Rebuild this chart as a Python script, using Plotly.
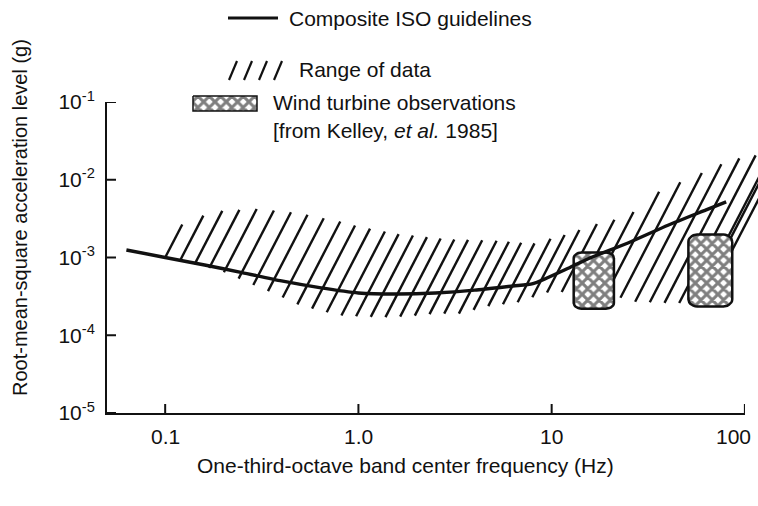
import numpy as np
import plotly.graph_objects as go

# Composite ISO guideline curve (one-third-octave band centres, Hz -> rms g)
iso_freq = [0.063, 0.1, 0.16, 0.25, 0.4, 0.63, 1.0, 1.6, 2.5, 4.0, 6.3, 8.0,
            12.5, 16.0, 25.0, 40.0, 63.0, 80.0]
iso_level = [1.25e-3, 1.0e-3, 8.0e-4, 6.4e-4, 5.0e-4, 4.1e-4, 3.5e-4, 3.4e-4,
             3.5e-4, 3.8e-4, 4.3e-4, 4.6e-4, 7.5e-4, 1.0e-3, 1.55e-3, 2.6e-3,
             4.1e-3, 5.2e-3]

# Range of data: upper and lower envelopes of the hatched band
range_up_freq = [0.1, 0.12, 0.16, 0.2, 0.3, 0.5, 0.8, 1.0, 1.6, 3.0, 5.0, 8.0,
                 10.0, 13.0, 16.0, 20.0, 26.0, 37.0, 50.0, 85.0, 120.0]
range_up_level = [2.0e-3, 2.6e-3, 3.5e-3, 4.0e-3, 4.2e-3, 3.7e-3, 2.9e-3, 2.5e-3,
                  2.0e-3, 1.7e-3, 1.65e-3, 1.5e-3, 1.75e-3, 2.1e-3, 2.6e-3, 2.9e-3,
                  3.7e-3, 7.4e-3, 1.0e-2, 1.8e-2, 2.1e-2]
range_lo_freq = [0.1, 0.16, 0.2, 0.3, 0.37, 0.5, 0.8, 1.3, 1.8, 2.5, 3.5, 4.3,
                 7.0, 8.0, 10.0, 13.0, 20.0, 27.0, 40.0, 63.0, 80.0, 88.0]
range_lo_level = [1.0e-3, 7.6e-4, 6.5e-4, 4.2e-4, 3.4e-4, 2.4e-4, 1.8e-4, 1.7e-4,
                  1.75e-4, 1.9e-4, 1.9e-4, 2.3e-4, 2.7e-4, 3.1e-4, 3.7e-4, 3.5e-4,
                  3.3e-4, 2.7e-4, 2.6e-4, 2.6e-4, 1.5e-3, 2.6e-3]

# Wind turbine observations (Kelley et al. 1985): frequency and level extents
obs_freq_lo = [13.0, 51.0]
obs_freq_hi = [21.0, 86.0]
obs_level_lo = [2.2e-4, 2.35e-4]
obs_level_hi = [1.16e-3, 1.97e-3]

x_ticks = [0.1, 1.0, 10.0, 100.0]
x_tick_text = ["0.1", "1.0", "10", "100"]
y_ticks = [1e-5, 1e-4, 1e-3, 1e-2, 1e-1]
y_tick_text = ["10<sup>-5</sup>", "10<sup>-4</sup>", "10<sup>-3</sup>",
               "10<sup>-2</sup>", "10<sup>-1</sup>"]

W, H = 758, 506
FONT = "Liberation Sans, Arial, Helvetica, sans-serif"
INK = "#111111"

# plot-area placement in pixels
PX_L, PX_R, PX_T, PX_B = 107, 745, 102, 413
X_MIN_LOG, X_MAX_LOG = np.log10(0.05), 2.0005
TICK_LEN = 9


def px(x):
    return x / W


def py(y):
    return 1 - y / H


lg = np.log10

# data layer spans a little past the right end of the axis so the hatch
# strokes are not cut square at 100 Hz; same scale as the main x axis
px_per_decade = (PX_R - PX_L) / (X_MAX_LOG - X_MIN_LOG)
X_DATA_MAX_LOG = X_MAX_LOG + (W - PX_R) / px_per_decade

# ---- hatch strokes of the data range, built from the two envelopes ----
u_up, v_up = lg(range_up_freq), lg(range_up_level)
u_lo, v_lo = lg(range_lo_freq), lg(range_lo_level)
stroke_slope = 4.8     # decades of level per decade of frequency
stroke_pitch = 0.076   # spacing of stroke feet, decades of frequency
hx, hy = [], []
for u0 in np.arange(u_lo[0], u_lo[-1] + 1e-9, stroke_pitch):
    v0 = np.interp(u0, u_lo, v_lo)
    grid = np.linspace(u0, u0 + 0.6, 1201)
    gap = np.interp(grid, u_up, v_up) - (v0 + stroke_slope * (grid - u0))
    if gap[0] <= 0:
        continue
    hit = np.nonzero(gap <= 0)[0]
    u1 = grid[hit[0]] if hit.size else grid[-1]
    v1 = v0 + stroke_slope * (u1 - u0)
    hx += [10 ** u0, 10 ** u1, None]
    hy += [10 ** v0, 10 ** v1, None]

fig = go.Figure()

fig.add_trace(go.Scatter(x=hx, y=hy, mode="lines", xaxis="x2", yaxis="y2",
                         line=dict(color=INK, width=2.4), hoverinfo="skip",
                         showlegend=False))


def rounded_box(u_a, u_b, v_a, v_b, fr_u=0.2, fr_v=0.1, n=8):
    """Rounded rectangle in log space, returned in linear units."""
    ru = (u_b - u_a) * fr_u
    rv = (v_b - v_a) * fr_v
    pts = []
    corners = [(u_b - ru, v_b - rv, 0), (u_a + ru, v_b - rv, 90),
               (u_a + ru, v_a + rv, 180), (u_b - ru, v_a + rv, 270)]
    for cu, cv, a0 in corners:
        for t in np.linspace(np.radians(a0), np.radians(a0 + 90), n):
            pts.append((cu + ru * np.cos(t), cv + rv * np.sin(t)))
    pts.append(pts[0])
    us, vs = zip(*pts)
    return list(10 ** np.array(us)), list(10 ** np.array(vs))


cross = dict(shape="x", fgcolor="#000000", bgcolor="white", size=8,
             solidity=0.62)
for f0, f1, l0, l1 in zip(obs_freq_lo, obs_freq_hi, obs_level_lo, obs_level_hi):
    bx, by = rounded_box(lg(f0), lg(f1), lg(l0), lg(l1))
    fig.add_trace(go.Scatter(x=bx, y=by, mode="lines", fill="toself",
                             xaxis="x2", yaxis="y2",
                             fillcolor="white", fillpattern=cross,
                             line=dict(color=INK, width=2.5), hoverinfo="skip",
                             showlegend=False))

fig.add_trace(go.Scatter(x=iso_freq, y=iso_level, mode="lines",
                         xaxis="x2", yaxis="y2",
                         line=dict(color=INK, width=3.4, shape="spline",
                                   smoothing=0.6),
                         name="Composite ISO guidelines", showlegend=False))

# ---- key swatches (drawn on a pixel-space overlay) ----
sw_x0, sw_x1, sw_y0, sw_y1 = 193, 257, 96, 111
fig.add_trace(go.Scatter(x=[sw_x0, sw_x1, sw_x1, sw_x0, sw_x0],
                         y=[sw_y0, sw_y0, sw_y1, sw_y1, sw_y0],
                         xaxis="x3", yaxis="y3", mode="lines", fill="toself",
                         fillcolor="white", fillpattern=cross,
                         line=dict(color=INK, width=1.5), hoverinfo="skip",
                         showlegend=False))
key_hx, key_hy = [], []
for k in range(4):
    x_foot = 229 + 15 * k
    key_hx += [x_foot, x_foot + 8, None]
    key_hy += [80, 61, None]
fig.add_trace(go.Scatter(x=key_hx, y=key_hy, xaxis="x3", yaxis="y3",
                         mode="lines", line=dict(color=INK, width=2.2),
                         hoverinfo="skip", showlegend=False))

axis_common = dict(showgrid=False, zeroline=False, showline=True,
                   linecolor=INK, linewidth=2, ticks="", automargin=False,
                   tickfont=dict(family=FONT, size=21, color=INK))

fig.update_layout(
    width=W, height=H,
    margin=dict(l=0, r=0, t=0, b=0),
    paper_bgcolor="white", plot_bgcolor="rgba(0,0,0,0)",
    showlegend=False,
    xaxis=dict(type="log", range=[X_MIN_LOG, X_MAX_LOG],
               domain=[px(PX_L), px(PX_R)], anchor="y",
               tickvals=x_ticks, showticklabels=False, **axis_common),
    yaxis=dict(type="log", range=[-5, -1],
               domain=[py(PX_B), py(PX_T)], anchor="x",
               tickvals=y_ticks, ticktext=y_tick_text, ticklabelstandoff=6,
               **axis_common),
    xaxis2=dict(type="log", range=[X_MIN_LOG, X_DATA_MAX_LOG],
                domain=[px(PX_L), 1], anchor="y2", visible=False),
    yaxis2=dict(type="log", range=[-5, -1],
                domain=[py(PX_B), py(PX_T)], anchor="x2", visible=False),
    xaxis3=dict(domain=[0, 1], range=[0, W], visible=False, anchor="y3"),
    yaxis3=dict(domain=[0, 1], range=[H, 0], visible=False, anchor="x3"),
)

# inward tick marks at the labelled values
tick_line = dict(color=INK, width=2)
for xv in x_ticks:
    fig.add_shape(type="line", xref="x", yref="y domain", x0=xv, x1=xv,
                  y0=0, y1=TICK_LEN / (PX_B - PX_T), line=tick_line)
for yv in y_ticks:
    fig.add_shape(type="line", xref="x domain", yref="y", x0=0,
                  x1=TICK_LEN / (PX_R - PX_L), y0=yv, y1=yv, line=tick_line)

# frequency tick labels; the one at the axis end is kept inside the page
for xv, label in zip(x_ticks, x_tick_text):
    at_end = xv == x_ticks[-1]
    fig.add_annotation(x=lg(xv), y=py(PX_B + 10), xref="x", yref="paper",
                       text=label, showarrow=False,
                       font=dict(family=FONT, size=21, color=INK),
                       xanchor="right" if at_end else "center",
                       xshift=8 if at_end else 0, yanchor="top")

text_font = dict(family=FONT, size=21, color=INK)

# axis titles
fig.add_annotation(x=px(405), y=py(465), xref="paper", yref="paper",
                   text="One-third-octave band center frequency (Hz)",
                   showarrow=False, font=text_font, xanchor="center",
                   yanchor="middle")
fig.add_annotation(x=px(20), y=py(218), xref="paper", yref="paper",
                   text="Root-mean-square acceleration level (g)",
                   showarrow=False, font=dict(family=FONT, size=20, color=INK),
                   textangle=-90, xanchor="center", yanchor="middle")

# key
fig.add_shape(type="line", xref="paper", yref="paper",
              x0=px(228), x1=px(278), y0=py(18), y1=py(18),
              line=dict(color=INK, width=3))
fig.add_annotation(x=px(287), y=py(18), xref="paper", yref="paper",
                   text="Composite ISO guidelines", showarrow=False,
                   font=text_font, xanchor="left", yanchor="middle")
fig.add_annotation(x=px(297), y=py(70), xref="paper", yref="paper",
                   text="Range of data", showarrow=False,
                   font=text_font, xanchor="left", yanchor="middle")
fig.add_annotation(x=px(271), y=py(103), xref="paper", yref="paper",
                   text="Wind turbine observations", showarrow=False,
                   font=text_font, xanchor="left", yanchor="middle")
fig.add_annotation(x=px(271), y=py(130), xref="paper", yref="paper",
                   text="[from Kelley, <i>et al.</i> 1985]", showarrow=False,
                   font=text_font, xanchor="left", yanchor="middle")

fig.write_html("out.html")
